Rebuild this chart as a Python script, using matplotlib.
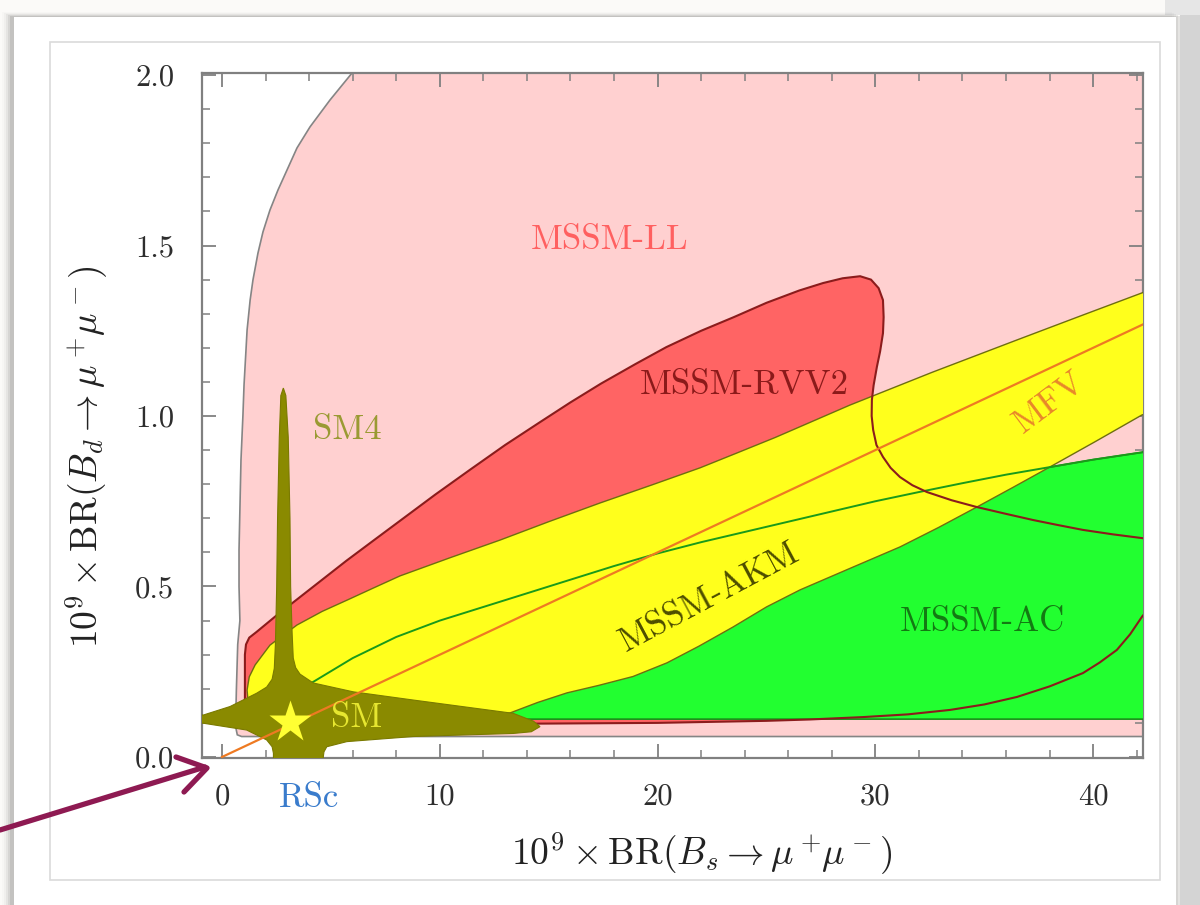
"""
Bs -> mu mu vs Bd -> mu mu correlation plot, redrawn from a screenshot.
Regions: MSSM-LL, MSSM-RVV2, MSSM-AC, MSSM-AKM, SM4, MFV line, SM point.
"""

import matplotlib
matplotlib.use('Agg')
import matplotlib.pyplot as plt
from matplotlib.patches import Rectangle
from matplotlib.ticker import MultipleLocator
import matplotlib.transforms as mtransforms

plt.rcParams['mathtext.fontset'] = 'cm'
plt.rcParams['font.family'] = ['cmr10', 'DejaVu Serif']
plt.rcParams['axes.formatter.use_mathtext'] = True

# Region outlines (x = 1e9 BR(Bs), y = 1e9 BR(Bd))
ll_x = [6.6, 5.97, 4.96, 4.04, 3.44, 2.98, 2.57, 2.20, 1.88, 1.65, 1.42, 1.29, 1.15, 1.10,
        1.01, 0.96, 0.87, 0.83, 0.78, 0.78, 0.82, 0.72, 0.66, 0.62, 0.70, 0.90, 44.0, 44.0]
ll_y = [2.10, 2.006, 1.927, 1.848, 1.786, 1.721, 1.663, 1.604, 1.540, 1.478, 1.399, 1.34, 1.252, 1.194,
        1.091, 1.003, 0.871, 0.754, 0.607, 0.50, 0.40, 0.33, 0.20, 0.09, 0.065, 0.06, 0.06, 2.10]

rvv2_x = [1.05, 1.05, 1.10, 1.25, 1.59, 2.5, 3.5, 4.6, 5.7, 7.0, 8.2, 9.8, 11.4, 13.0, 14.6,
          16.0, 17.4, 19.0, 20.4, 22.0, 23.5, 25.0, 26.5, 27.6, 28.5, 29.3, 29.8, 30.15, 30.35,
          30.38, 30.35, 30.22, 30.07, 29.92, 29.84, 29.83, 29.9, 30.05, 30.35, 30.7, 31.13,
          31.7, 32.37, 33.5, 34.66, 36.0, 37.24, 38.4, 39.53, 40.9, 42.24, 44.0,
          44.0, 43.0, 42.24, 41.7, 41.09, 40.3, 39.53, 38.0, 36.5, 35.0, 33.43, 31.5, 29.43,
          27.0, 25.0, 20.0, 10.0]
rvv2_y = [0.095, 0.30, 0.33, 0.35, 0.367, 0.415, 0.465, 0.52, 0.575, 0.637, 0.694, 0.77, 0.843, 0.915, 0.982,
          1.04, 1.095, 1.153, 1.202, 1.25, 1.29, 1.332, 1.368, 1.39, 1.404, 1.41, 1.40, 1.375, 1.34,
          1.29, 1.243, 1.19, 1.144, 1.09, 1.047, 1.0, 0.959, 0.915, 0.880, 0.848, 0.821,
          0.797, 0.777, 0.753, 0.733, 0.713, 0.695, 0.68, 0.666, 0.653, 0.642, 0.625,
          0.56, 0.47, 0.411, 0.36, 0.314, 0.277, 0.246, 0.207, 0.176, 0.154, 0.138, 0.125, 0.117,
          0.11, 0.106, 0.100, 0.096]

ac_x = [2.8, 2.8, 3.5, 4.18, 6.0, 8.0, 10.0, 12.0, 14.0, 16.0, 18.0, 20.0, 22.0, 24.0, 26.0,
        28.0, 30.0, 32.0, 34.0, 36.0, 38.0, 40.0, 42.3, 44.0, 44.0]
ac_y = [0.111, 0.16, 0.20, 0.22, 0.29, 0.352, 0.40, 0.44, 0.48, 0.52, 0.56, 0.597, 0.63, 0.66, 0.69,
        0.72, 0.75, 0.777, 0.803, 0.828, 0.85, 0.872, 0.894, 0.91, 0.111]

akm_x = [1.15, 1.25, 1.52, 2.2, 3.44, 4.6, 5.74, 7.0, 8.17, 10.5, 12.76, 15.0, 17.36, 19.7, 21.95,
         23.7, 25.4, 28.83, 32.6, 36.5, 39.4, 42.24, 44.0,
         44.0, 42.24, 40.1, 38.0, 36.3, 34.66, 32.9, 31.13, 28.83, 26.54, 25.0, 23.46, 21.9,
         20.43, 18.87, 17.3, 15.84, 14.5, 13.22, 12.0, 10.47, 3.58, 1.52, 1.2]
akm_y = [0.196, 0.235, 0.270, 0.328, 0.387, 0.427, 0.460, 0.497, 0.531, 0.585, 0.636, 0.69, 0.745, 0.797, 0.848,
         0.893, 0.937, 1.032, 1.128, 1.223, 1.293, 1.361, 1.40,
         1.04, 1.003, 0.925, 0.850, 0.79, 0.733, 0.673, 0.616, 0.553, 0.490, 0.44, 0.381, 0.325,
         0.276, 0.236, 0.21, 0.188, 0.16, 0.129, 0.118, 0.114, 0.114, 0.132, 0.16]

sm4_x = [2.815, 2.93, 3.04, 3.12, 3.15, 3.22, 3.27, 3.38, 3.58, 4.19, 6.03, 8.78, 13.37, 14.3, 14.6,
         14.2, 13.37, 8.78, 5.73, 4.81, 4.68, 4.65, 4.65, 2.36, 2.36, 2.30, 2.05, 1.13, -0.86,
         -1.5, -1.5, -0.86, 0.37, 1.59, 2.05, 2.30, 2.40, 2.45, 2.51, 2.55, 2.63, 2.70]
sm4_y = [1.082, 1.06, 0.938, 0.70, 0.50, 0.36, 0.29, 0.262, 0.243, 0.217, 0.191, 0.167, 0.128, 0.105, 0.089,
         0.074, 0.069, 0.060, 0.045, 0.030, 0.015, 0.0, -0.05, -0.05, 0.011, 0.030, 0.050, 0.079, 0.099,
         0.10, 0.125, 0.123, 0.148, 0.187, 0.205, 0.228, 0.26, 0.33, 0.50, 0.70, 0.938, 1.06]

mfv_x = [0.0, 44.0]
mfv_y = [0.0, 1.32]

sm_point = (3.12, 0.103)

x_ticks = [0, 10, 20, 30, 40]
y_ticks = [0.0, 0.5, 1.0, 1.5, 2.0]

# ------------------------------------------------------------------
fig = plt.figure(figsize=(12, 9.05), dpi=100)
fig.patch.set_facecolor('#fbfaf8')

# page / card background, in pixel coordinates
bg = fig.add_axes([0, 0, 1, 1], zorder=-5)
bg.set_xlim(0, 1200)
bg.set_ylim(905, 0)
bg.axis('off')
bg.add_patch(Rectangle((1165, 0), 35, 15, color='#e6e6e6', lw=0))
bg.add_patch(Rectangle((1180, 15), 20, 890, color='#d4d4d4', lw=0))
for i, a in enumerate([0.05, 0.08, 0.12, 0.18, 0.25]):
    bg.add_patch(Rectangle((2 + 2 * i, 12 + i), 1170, 900, color='black', alpha=a * 0.35, lw=0))
bg.add_patch(Rectangle((14, 17), 1162, 890, color='white', lw=0))
bg.add_patch(Rectangle((50, 42), 1110, 838, facecolor='white', edgecolor='#dadada', lw=1.2))

# main plot
ax = fig.add_axes([202 / 1200, 1 - 758 / 905, 941 / 1200, 685 / 905])
ax.set_xlim(-0.92, 42.29)
ax.set_ylim(-0.003, 2.006)

ax.fill(ll_x, ll_y, facecolor='#ffd0d0', edgecolor='#858585', lw=1.2, zorder=1)
ax.fill(rvv2_x, rvv2_y, facecolor='#ff6464', edgecolor='none', zorder=2)
ax.fill(ac_x, ac_y, facecolor='#22ff30', edgecolor='#1a8f1a', lw=1.2, zorder=3)
ax.fill(akm_x, akm_y, facecolor='#ffff1c', edgecolor='#6e6e10', lw=1.0, zorder=4)
ax.plot(ac_x[2:23], ac_y[2:23], color='#1a9a1a', lw=1.4, zorder=5)
ax.fill(rvv2_x, rvv2_y, facecolor='none', edgecolor='#8b1c1c', lw=1.5, zorder=5)
ax.fill(sm4_x, sm4_y, facecolor='#8a8a00', edgecolor='#7a7a00', lw=0.8, zorder=6)
ax.plot(mfv_x, mfv_y, color='#ee7a22', lw=1.6, zorder=7)
ax.plot(*sm_point, marker='*', ms=32, color='#ffff33', mec='none', zorder=8)

lab = dict(fontsize=25, ha='center', va='center', zorder=9)
ax.text(17.8, 1.516, 'MSSM-LL', color='#ff6060', **lab)
ax.text(24.0, 1.091, 'MSSM-RVV2', color='#8b1a1a', **lab)
ax.text(38.0, 1.04, 'MFV', color='#e8882a', rotation=37, **lab)
ax.text(22.4, 0.469, 'MSSM-AKM', color='#4d4d00', rotation=28, **lab)
ax.text(34.9, 0.396, 'MSSM-AC', color='#137a13', **lab)
ax.text(5.74, 0.959, 'SM4', color='#9a9a33', **lab)
ax.text(6.2, 0.114, 'SM', color='#e6e630', **lab)

# RSc marker label under the x axis
trans = mtransforms.blended_transform_factory(ax.transData, ax.transAxes)
ax.text(4.0, -0.058, 'RSc', color='#3a7ccc', fontsize=25, ha='center', va='center',
        transform=trans, clip_on=False)

# axes styling (Mathematica frame look)
for s in ax.spines.values():
    s.set_color('#808080')
    s.set_linewidth(1.6)
ax.set_xticks(x_ticks, [str(t) for t in x_ticks])
ax.set_yticks(y_ticks, [f'{t:.1f}' for t in y_ticks])
ax.xaxis.set_minor_locator(MultipleLocator(2))
ax.yaxis.set_minor_locator(MultipleLocator(0.1))
ax.tick_params(which='both', direction='in', top=True, right=True, color='#808080',
               labelcolor='#2e2e2e', labelsize=22)
ax.tick_params(which='major', length=10, width=1.3)
ax.tick_params(which='minor', length=6, width=1.1)
ax.tick_params(axis='x', pad=18)
ax.tick_params(axis='y', pad=20)

ax.set_xlabel(r'$10^9\times\mathrm{BR}(B_s\to\mu^+\!\mu^-)$', fontsize=27, color='#222222')
ax.set_ylabel(r'$10^9\times\mathrm{BR}(B_d\to\mu^+\!\mu^-)$', fontsize=27, color='#222222')
ax.xaxis.set_label_coords(0.531, -0.106)
ax.yaxis.set_label_coords(-0.098, 0.44)

# overlay arrow pointing at the origin
ov = fig.add_axes([0, 0, 1, 1], zorder=10)
ov.set_xlim(0, 1200)
ov.set_ylim(905, 0)
ov.axis('off')
ov.patch.set_alpha(0)
ov.plot([0, 205], [830, 767], color='#8e1a52', lw=3.8, solid_capstyle='round')
ov.plot([176, 207, 184], [757, 768, 792], color='#8e1a52', lw=3.8,
        solid_capstyle='round', solid_joinstyle='round')

plt.savefig('out.png', dpi=100)
plt.close()
